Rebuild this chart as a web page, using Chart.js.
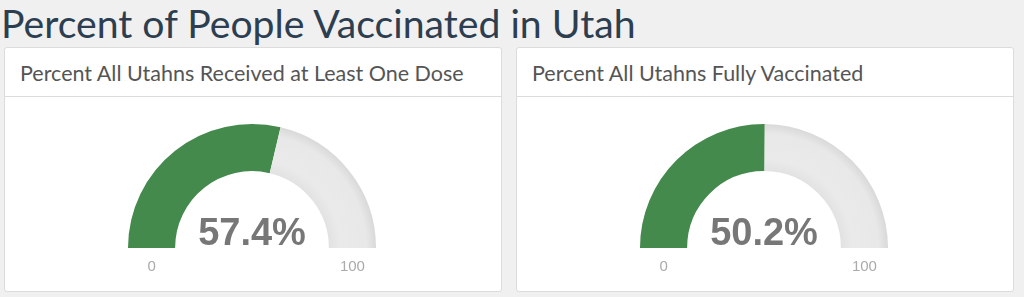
<!DOCTYPE html>
<html>
<head>
<meta charset="utf-8">
<script src="https://cdn.jsdelivr.net/npm/chart.js@4/dist/chart.umd.min.js"></script>
<style>
  body { margin: 0; background: #f0f0f0; width: 1024px; height: 297px; overflow: hidden; position: relative; font-family: Lato, "Open Sans", sans-serif; }
  #title { position: absolute; left: 1px; top: 3px; font-size: 39.2px; line-height: 39px; color: #2c3e50; white-space: nowrap; }
  .panel { position: absolute; top: 47px; width: 496px; height: 243px; background: #fff; border: 1px solid #dcdcdc; border-radius: 3px; }
  .panel-head { height: 48px; border-bottom: 1px solid #dcdcdc; box-sizing: content-box; }
  .panel-head span { position: absolute; left: 15px; top: 15px; font-size: 21.5px; line-height: 21px; color: #555; white-space: nowrap; }
  .panel canvas { position: absolute; left: 0; top: 49px; }
</style>
</head>
<body>
<div id="title">Percent of People Vaccinated in Utah</div>
<div class="panel" style="left:4px"><div class="panel-head"><span id="head0"></span></div><canvas id="gauge0" width="496" height="194"></canvas></div>
<div class="panel" style="left:516px"><div class="panel-head"><span id="head1"></span></div><canvas id="gauge1" width="496" height="194"></canvas></div>
<script>
//titles of each gauge panel
var gaugeTitles = ["Percent All Utahns Received at Least One Dose", "Percent All Utahns Fully Vaccinated"];
//percent vaccinated for each gauge
var gaugeValues = [57.4, 50.2];
//range of the gauges
var gaugeMin = 0;
var gaugeMax = 100;

var fillColor = '#448a4c';
var emptyColor = '#e9e8e9';

//first slice is green, the grey rest gets a soft shadow near its edges
function sliceFill(context)
{
    if(context.dataIndex === 0)
        return fillColor;
    var chart = context.chart;
    var area = chart.chartArea;
    if(!area)
        return emptyColor;
    var outer = Math.min(area.right - area.left, 2 * (area.bottom - area.top)) / 2;
    var inner = outer * 0.62;
    var cx = (area.left + area.right) / 2;
    var cy = area.bottom;
    var grad = chart.ctx.createRadialGradient(cx, cy, inner, cx, cy, outer);
    grad.addColorStop(0, '#e3e2e3');
    grad.addColorStop(0.25, '#ebeaeb');
    grad.addColorStop(0.8, '#e9e8e9');
    grad.addColorStop(1, '#dad9da');
    return grad;
}

//draws the big percent in the middle and the min / max under the arc ends
var gaugeText = {
    id: 'gaugeText',
    afterDatasetsDraw: function(chart) {
        var arc = chart.getDatasetMeta(0).data[0];
        var ctx = chart.ctx;
        var mid = (arc.outerRadius + arc.innerRadius) / 2;
        ctx.save();
        ctx.textAlign = 'center';
        ctx.fillStyle = '#777';
        ctx.font = 'bold 38px "Liberation Sans", Arial, sans-serif';
        ctx.textBaseline = 'alphabetic';
        ctx.fillText(chart.options.gaugeValue.toFixed(1) + '%', arc.x, arc.y - 3);
        ctx.fillStyle = '#aaa';
        ctx.font = '15px "Liberation Sans", Arial, sans-serif';
        ctx.textBaseline = 'middle';
        ctx.fillText(String(gaugeMin), arc.x - mid, arc.y + 19);
        ctx.fillText(String(gaugeMax), arc.x + mid, arc.y + 19);
        ctx.restore();
    }
};

gaugeValues.forEach(function(value, i) {
    document.getElementById('head' + i).textContent = gaugeTitles[i];
    new Chart(document.getElementById('gauge' + i), {
        type: 'doughnut',
        data: {
            labels: ['Vaccinated', 'Not vaccinated'],
            datasets: [{
                data: [value - gaugeMin, gaugeMax - value],
                backgroundColor: sliceFill,
                borderWidth: 0
            }]
        },
        options: {
            responsive: false,
            animation: false,
            rotation: -90,
            circumference: 180,
            cutout: '62%',
            gaugeValue: value,
            layout: { padding: { top: 27, bottom: 43, left: 0, right: 2 } },
            plugins: { legend: { display: false }, tooltip: { enabled: false } }
        },
        plugins: [gaugeText]
    });
});
</script>
</body>
</html>
